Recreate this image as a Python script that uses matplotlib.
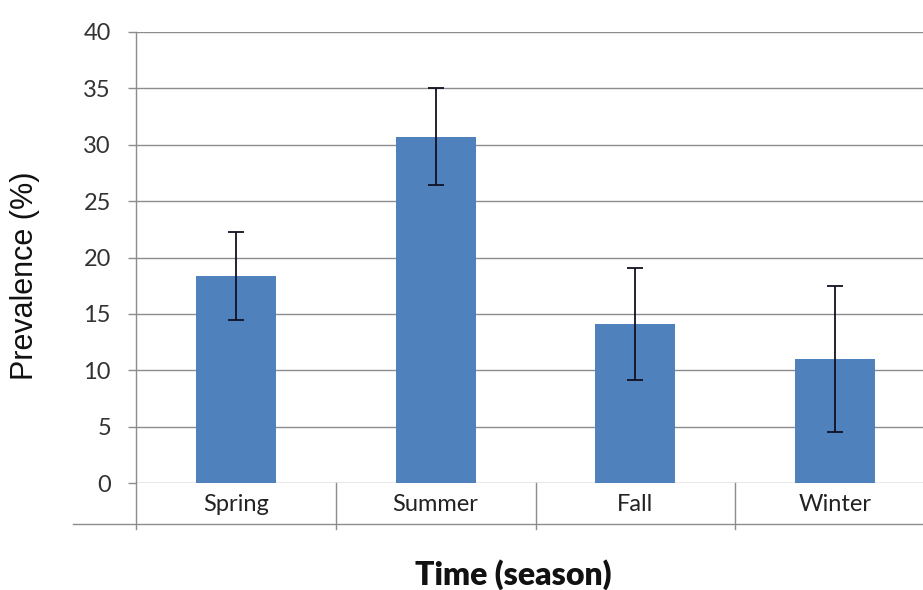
import matplotlib
matplotlib.use("Agg")
from matplotlib import pyplot as plt
from matplotlib import transforms

# data
seasons = ["Spring", "Summer", "Fall", "Winter"]
prevalence = [18.4, 30.7, 14.1, 11.0]
err = [3.9, 4.3, 5.0, 6.5]
yticks = [0, 5, 10, 15, 20, 25, 30, 35, 40]

bar_color = "#4F81BD"
grid_color = "#8C8C8C"

fig = plt.figure(figsize=(9.23, 5.90), dpi=100)
# axes runs off the right edge like the original screenshot
ax = fig.add_axes([136/923, 1-483/590, 799/923, 451/590])

x = list(range(len(seasons)))
ax.bar(x, prevalence, width=0.4, color=bar_color, zorder=3)
ax.errorbar(x, prevalence, yerr=err, fmt="none", ecolor="#111122",
            elinewidth=1.3, capsize=6, capthick=1.3, zorder=4)

ax.set_xlim(-0.5, 3.5)
ax.set_ylim(0, 40)
ax.set_yticks(yticks)
for t in yticks:
    ax.axhline(t, color=grid_color, lw=1.0, zorder=1)

for s in ["top", "right", "bottom"]:
    ax.spines[s].set_visible(False)
ax.spines["left"].set_color(grid_color)
ax.spines["left"].set_linewidth(1.0)

ax.tick_params(axis="y", length=6, width=1.0, color=grid_color, pad=12,
               labelsize=17, labelcolor="#333333")
ax.set_yticklabels([str(t) for t in yticks], fontfamily="Lato")
ax.set_xticks(x)
ax.set_xticklabels(seasons, fontfamily="Lato", fontsize=17, color="#222222")
ax.tick_params(axis="x", length=0, pad=8)

# category box below the axis
tr = transforms.blended_transform_factory(ax.transData, ax.transAxes)
for xs in [-0.5, 0.5, 1.5, 2.5, 3.5]:
    ax.plot([xs, xs], [0, -0.102], transform=tr, color=grid_color,
            lw=1.0, clip_on=False)
ax.plot([-0.079, 1], [-0.0909, -0.0909], transform=ax.transAxes,
        color=grid_color, lw=1.0, clip_on=False)

ax.set_ylabel("Prevalence (%)", fontfamily="Liberation Sans", fontsize=22,
              color="#111111")
ax.yaxis.set_label_coords(-0.12, 0.46)

fig.text(513/923, 1-575/590, "Time (season)", ha="center", va="center",
         fontfamily="Lato", fontweight="heavy", fontsize=23, color="#111111")

fig.savefig("out.png", dpi=100)
